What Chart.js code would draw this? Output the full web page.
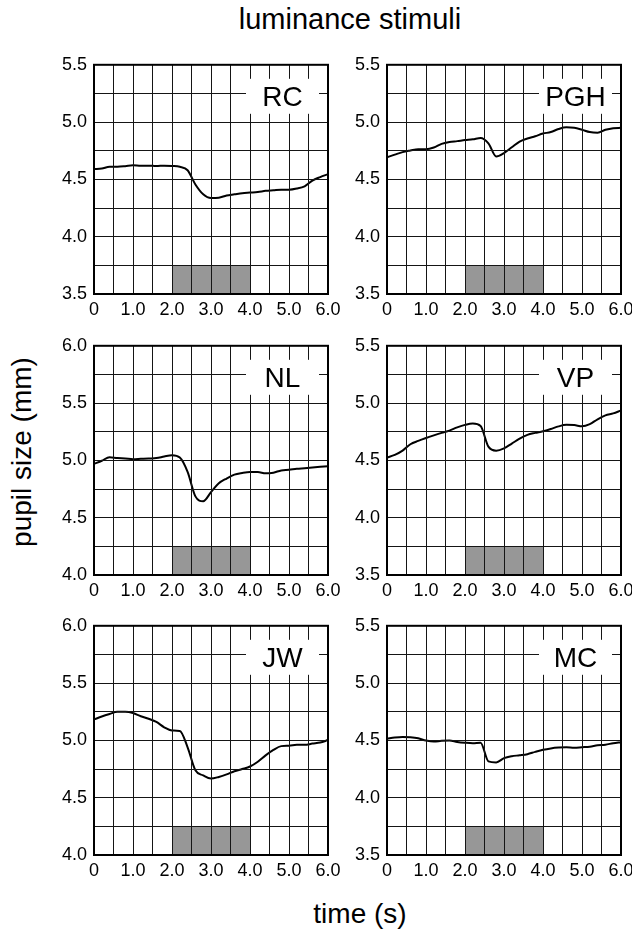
<!DOCTYPE html>
<html>
<head>
<meta charset="utf-8">
<script src="https://cdn.jsdelivr.net/npm/chart.js@4.4.0/dist/chart.umd.min.js"></script>
<style>
    html, body { margin: 0; padding: 0; background: #fff; overflow: hidden; }
    body { width: 632px; height: 930px; position: relative; font-family: "Liberation Sans", Arial, sans-serif; color: #000; }
    canvas { position: absolute; }
    .txt { position: absolute; white-space: nowrap; font-size: 28px; line-height: 28px; }
</style>
</head>
<body>
<div class="txt" style="left:350px; top:5px; font-size:29px; transform:translateX(-50%);">luminance stimuli</div>
<div class="txt" style="left:360px; top:900px; transform:translateX(-50%);">time (s)</div>
<div class="txt" style="left:21.5px; top:452px; transform:translate(-50%,-50%) rotate(-90deg);">pupil size (mm)</div>

<canvas id="c0"></canvas>
<canvas id="c1"></canvas>
<canvas id="c2"></canvas>
<canvas id="c3"></canvas>
<canvas id="c4"></canvas>
<canvas id="c5"></canvas>

<script>
// ---- data ----
const times = [0, 0.2, 0.4, 0.6, 0.8, 1.0, 1.2, 1.4, 1.6, 1.8, 2.0, 2.2, 2.4, 2.6, 2.8, 3.0,
    3.2, 3.4, 3.6, 3.8, 4.0, 4.2, 4.4, 4.6, 4.8, 5.0, 5.2, 5.4, 5.6, 5.8, 6.0];//time (s)

const rcSize  = [4.59, 4.595, 4.61, 4.61, 4.615, 4.623, 4.62, 4.62, 4.617, 4.62, 4.617, 4.61, 4.58, 4.456, 4.37, 4.337,
    4.34, 4.36, 4.37, 4.38, 4.385, 4.39, 4.40, 4.405, 4.41, 4.41, 4.42, 4.44, 4.49, 4.52, 4.545];
const pghSize = [4.693, 4.716, 4.738, 4.752, 4.764, 4.764, 4.778, 4.81, 4.826, 4.834, 4.843, 4.85, 4.862, 4.815, 4.70, 4.73,
    4.78, 4.83, 4.857, 4.877, 4.90, 4.913, 4.94, 4.955, 4.95, 4.933, 4.913, 4.908, 4.933, 4.947, 4.95];
const nlSize  = [4.969, 4.997, 5.028, 5.02, 5.017, 5.011, 5.014, 5.017, 5.02, 5.034, 5.045, 5.025, 4.90, 4.686, 4.644, 4.723,
    4.80, 4.842, 4.876, 4.89, 4.898, 4.898, 4.887, 4.893, 4.912, 4.918, 4.927, 4.932, 4.938, 4.944, 4.95];
const vpSize  = [4.525, 4.548, 4.585, 4.641, 4.67, 4.695, 4.718, 4.74, 4.76, 4.788, 4.81, 4.822, 4.80, 4.62, 4.585, 4.605,
    4.647, 4.69, 4.723, 4.74, 4.754, 4.774, 4.797, 4.81, 4.808, 4.797, 4.816, 4.859, 4.893, 4.91, 4.935];
const jwSize  = [5.183, 5.208, 5.23, 5.25, 5.25, 5.239, 5.211, 5.189, 5.161, 5.114, 5.086, 5.083, 4.94, 4.739, 4.694, 4.667,
    4.681, 4.703, 4.731, 4.75, 4.772, 4.814, 4.869, 4.917, 4.95, 4.953, 4.961, 4.961, 4.972, 4.981, 5.003];
const mcSize  = [4.514, 4.525, 4.53, 4.527, 4.518, 4.499, 4.49, 4.496, 4.499, 4.487, 4.48, 4.476, 4.48, 4.317, 4.308, 4.345,
    4.362, 4.37, 4.38, 4.40, 4.418, 4.43, 4.437, 4.44, 4.435, 4.44, 4.445, 4.457, 4.462, 4.476, 4.485];

const panelNames = ['RC', 'PGH', 'NL', 'VP', 'JW', 'MC'];
const panelSizes = [rcSize, pghSize, nlSize, vpSize, jwSize, mcSize];
const yMins = [3.5, 3.5, 4.0, 3.5, 4.0, 3.5];//y axis bottom, range is 2 mm
const stimTimes = [2.0, 4.0];//stimulus on / off (s)

// ---- layout ----
const plotLefts = [94, 387];
const plotTops = [59, 340, 620];
const plotW = 234, plotH = 235;
const padL = 44, padT = 12, padR = 24, padB = 32;
const FONT = '"Liberation Sans", Arial, sans-serif';

// white box with the subject's initials + thick frame round the plot
const panelLabel = {
    id: 'panelLabel',
    afterDraw(chart, args, opts) {
        const { ctx, chartArea: a } = chart;
        ctx.save();
        const w = 73, h = 35;
        const x = a.right - 9 - w, y = a.top + 14;
        ctx.fillStyle = '#fff';
        ctx.fillRect(x, y, w, h);
        ctx.fillStyle = '#000';
        ctx.font = '28px ' + FONT;
        ctx.textAlign = 'center';
        ctx.textBaseline = 'alphabetic';
        ctx.fillText(opts.text, x + w / 2, y + 27);
        ctx.strokeStyle = '#000';
        ctx.lineWidth = 2;
        ctx.strokeRect(a.left, a.top, a.right - a.left, a.bottom - a.top);
        ctx.restore();
    }
};

panelNames.forEach((name, i) => {
    const col = i % 2, row = Math.floor(i / 2);
    const canvas = document.getElementById('c' + i);
    canvas.width = padL + plotW + padR;
    canvas.height = padT + plotH + padB;
    canvas.style.left = (plotLefts[col] - padL) + 'px';
    canvas.style.top = (plotTops[row] - padT) + 'px';

    const yMin = yMins[i];
    const sizes = panelSizes[i];

    new Chart(canvas, {
        type: 'line',
        data: {
            datasets: [{
                label: name,
                data: times.map((t, k) => ({ x: t, y: sizes[k] })),
                borderColor: '#000',
                borderWidth: 2,
                pointRadius: 0,
                fill: false,
                cubicInterpolationMode: 'monotone',
                order: 0
            }, {
                label: 'stimulus',
                data: stimTimes.map(t => ({ x: t, y: yMin + 0.25 })),
                borderWidth: 0,
                borderColor: 'rgba(0,0,0,0)',
                backgroundColor: '#979797',
                pointRadius: 0,
                fill: 'start',
                order: 1
            }]
        },
        options: {
            responsive: false,
            animation: false,
            layout: { padding: { top: padT, right: padR, left: 0, bottom: 0 } },
            plugins: {
                legend: { display: false },
                tooltip: { enabled: false },
                panelLabel: { text: name }
            },
            scales: {
                x: {
                    type: 'linear',
                    min: 0, max: 6,
                    afterFit(scale) { scale.height = padB; },
                    grid: { color: '#151515', lineWidth: 1, drawTicks: false, z: 1 },
                    border: { display: false },
                    ticks: {
                        stepSize: 0.5,
                        autoSkip: false,
                        maxRotation: 0,
                        padding: 5,
                        color: '#000',
                        font: { family: FONT, size: 18 },
                        callback: v => Math.abs(v - Math.round(v)) < 1e-6 ? (v === 0 ? '0' : v.toFixed(1)) : ''
                    }
                },
                y: {
                    min: yMin, max: yMin + 2,
                    afterFit(scale) { scale.width = padL; },
                    grid: { color: '#151515', lineWidth: 1, drawTicks: false, z: 1 },
                    border: { display: false },
                    ticks: {
                        stepSize: 0.25,
                        autoSkip: false,
                        padding: 7,
                        color: '#000',
                        font: { family: FONT, size: 18 },
                        callback: v => Math.abs(v * 2 - Math.round(v * 2)) < 1e-6 ? v.toFixed(1) : ''
                    }
                }
            }
        },
        plugins: [panelLabel]
    });
});
</script>
</body>
</html>
